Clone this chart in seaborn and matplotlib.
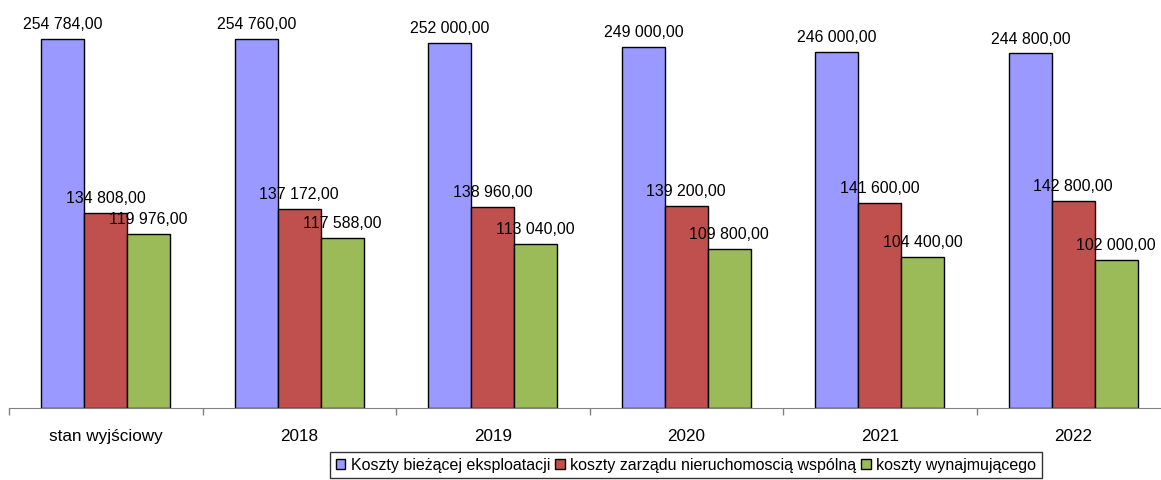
import matplotlib
matplotlib.use("Agg")
import matplotlib.pyplot as plt
import seaborn as sns
import pandas as pd
from matplotlib.patches import Patch

categories = ["stan wyjściowy", "2018", "2019", "2020", "2021", "2022"]
series_names = ["Koszty bieżącej eksploatacji",
                "koszty zarządu nieruchomoscią wspólną",
                "koszty wynajmującego"]
eksploatacja = [254784.00, 254760.00, 252000.00, 249000.00, 246000.00, 244800.00]
zarzad = [134808.00, 137172.00, 138960.00, 139200.00, 141600.00, 142800.00]
wynajmujacy = [119976.00, 117588.00, 113040.00, 109800.00, 104400.00, 102000.00]
colors = ["#9999FF", "#C0504D", "#9BBB59"]

rows = []
for name, vals in zip(series_names, [eksploatacja, zarzad, wynajmujacy]):
    for c, v in zip(categories, vals):
        rows.append({"cat": c, "series": name, "value": v})
df = pd.DataFrame(rows)

sns.set_style("white")
plt.rcParams["font.family"] = ["Liberation Sans", "DejaVu Sans"]
plt.rcParams["text.color"] = "black"
plt.rcParams["xtick.color"] = "black"

fig = plt.figure(figsize=(11.61, 4.8), dpi=100)
ax = fig.add_axes([9/1161, 72/480, 1.0, 408/480])
sns.barplot(data=df, x="cat", y="value", hue="series", order=categories,
            hue_order=series_names, palette=colors, width=0.665,
            edgecolor="black", linewidth=1.0, saturation=1, ax=ax, legend=False)

def fmt(v):
    s = f"{v:,.2f}"
    return s.replace(",", " ").replace(".", ",")

for cont in ax.containers:
    ax.bar_label(cont, labels=[fmt(b.get_height()) for b in cont],
                 padding=5, fontsize=11.4, color="black")

ax.set_xlim(-0.5, 5.5)
ax.set_ylim(0, 254784 * 408 / 369)
ax.set_xlabel("")
ax.set_ylabel("")
ax.set_yticks([])
for s in ["top", "right", "left"]:
    ax.spines[s].set_visible(False)
ax.spines["bottom"].set_color("#808080")
ax.set_xticks(range(len(categories)))
ax.set_xticklabels(categories, fontsize=12.3, color="black")
ax.tick_params(axis="x", which="major", length=0, pad=15, bottom=True)
ax.set_xticks([i - 0.5 for i in range(len(categories) + 1)], minor=True)
ax.tick_params(axis="x", which="minor", length=5, width=1, color="#808080",
               direction="out", bottom=True)

handles = [Patch(facecolor=c, edgecolor="black", linewidth=1) for c in colors]
leg = fig.legend(handles, series_names, loc="upper left",
                 bbox_to_anchor=(330/1161, 1 - 452/480), ncol=3, frameon=True,
                 fontsize=11.5, handlelength=0.6, handleheight=0.6,
                 handletextpad=0.35, columnspacing=0.3, borderpad=0.35,
                 fancybox=False, borderaxespad=0.0)
leg.get_frame().set_edgecolor("black")
leg.get_frame().set_linewidth(1.0)
for t in leg.get_texts():
    t.set_color("black")

fig.savefig("out.png", dpi=100)
